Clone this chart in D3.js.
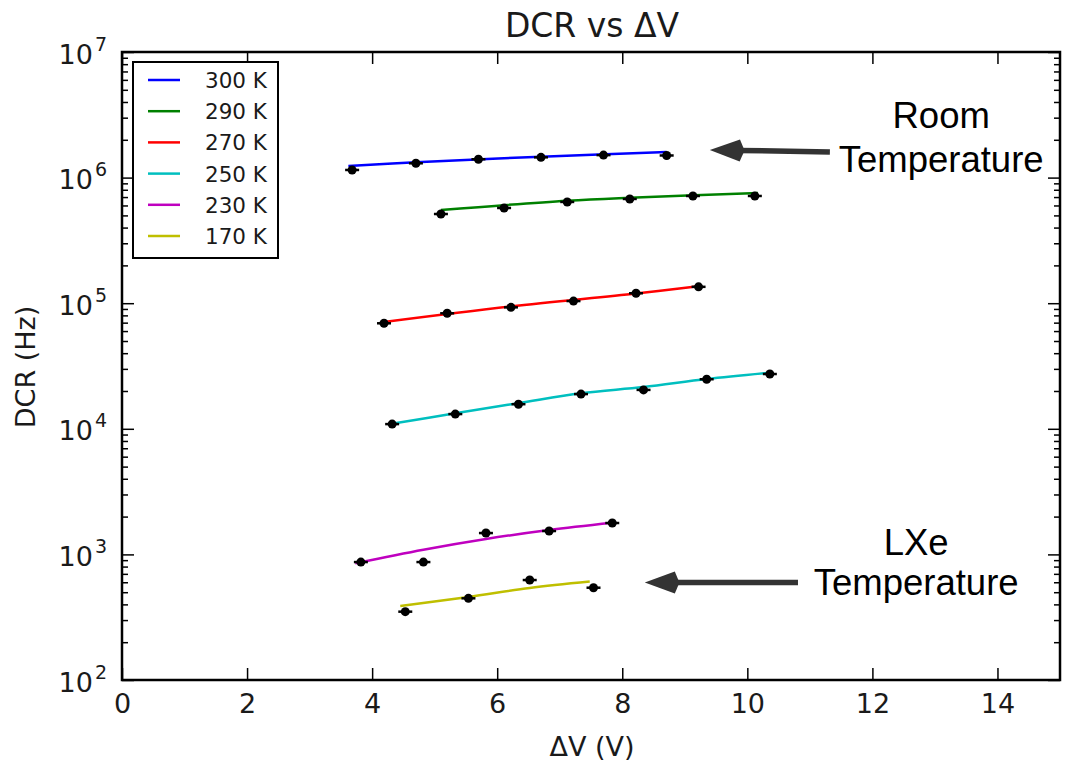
<!DOCTYPE html>
<html>
<head>
<meta charset="utf-8">
<script src="https://cdn.jsdelivr.net/npm/d3@7/dist/d3.min.js"></script>
<style>
  html, body { margin: 0; padding: 0; background: #fff; }
  svg { display: block; }
</style>
</head>
<body>
<svg id="chart" width="1066" height="772"></svg>
<script>
// Series labels and colours (matplotlib classic b, g, r, c, m, y)
const seriesNames = ["300 K", "290 K", "270 K", "250 K", "230 K", "170 K"];
const seriesColors = ["#0000ff", "#008000", "#ff0000", "#00bfbf", "#bf00bf", "#bfbf00"];

// Measured points: overvoltage ΔV (V) and dark count rate (Hz)
const dv300 = [3.68, 4.70, 5.70, 6.70, 7.70, 8.71];
const dcr300 = [1.15e6, 1.30e6, 1.40e6, 1.45e6, 1.51e6, 1.50e6];
const dv290 = [5.10, 6.11, 7.12, 8.12, 9.13, 10.12];
const dcr290 = [5.13e5, 5.73e5, 6.40e5, 6.76e5, 7.14e5, 7.14e5];
const dv270 = [4.19, 5.20, 6.22, 7.22, 8.22, 9.22];
const dcr270 = [6.92e4, 8.31e4, 9.27e4, 1.04e5, 1.20e5, 1.35e5];
const dv250 = [4.32, 5.33, 6.34, 7.34, 8.34, 9.35, 10.36];
const dcr250 = [1.09e4, 1.31e4, 1.57e4, 1.89e4, 2.04e4, 2.48e4, 2.73e4];
const dv230 = [3.82, 4.82, 5.82, 6.83, 7.84];
const dcr230 = [869, 869, 1479, 1535, 1778];
const dv170 = [4.53, 5.54, 6.52, 7.54];
const dcr170 = [350, 447, 625, 543];

// Fitted curves through each data set
const fitDv300 = [3.62, 4.70, 6.70, 8.71];
const fitDcr300 = [1.236e6, 1.325e6, 1.466e6, 1.600e6];
const fitDv290 = [5.10, 7.12, 8.12, 10.17];
const fitDcr290 = [5.52e5, 6.55e5, 6.92e5, 7.54e5];
const fitDv270 = [4.19, 6.22, 8.22, 9.25];
const fitDcr270 = [7.08e4, 9.42e4, 1.194e5, 1.371e5];
const fitDv250 = [4.29, 5.33, 6.34, 7.34, 8.34, 9.35, 10.40];
const fitDcr250 = [1.09e4, 1.33e4, 1.60e4, 1.92e4, 2.15e4, 2.49e4, 2.81e4];
const fitDv230 = [3.73, 4.82, 5.82, 6.83, 7.84];
const fitDcr230 = [849, 1090, 1327, 1563, 1786];
const fitDv170 = [4.45, 5.54, 6.52, 7.48];
const fitDcr170 = [388, 458, 540, 608];

// Axis ticks
const xTicks = [0, 2, 4, 6, 8, 10, 12, 14];
const yExponents = [2, 3, 4, 5, 6, 7];

const pointsDv = [dv300, dv290, dv270, dv250, dv230, dv170];
const pointsDcr = [dcr300, dcr290, dcr270, dcr250, dcr230, dcr170];
const fitsDv = [fitDv300, fitDv290, fitDv270, fitDv250, fitDv230, fitDv170];
const fitsDcr = [fitDcr300, fitDcr290, fitDcr270, fitDcr250, fitDcr230, fitDcr170];

const series = seriesNames.map((name, i) => ({
  name,
  color: seriesColors[i],
  points: pointsDv[i].map((v, j) => ({ x: v, y: pointsDcr[i][j] })),
  fit: fitsDv[i].map((v, j) => ({ x: v, y: fitsDcr[i][j] }))
}));

const svg = d3.select("#chart");
const margin = { left: 122, right: 6, top: 52, bottom: 92 };
const W = 1066, H = 772;
const x = d3.scaleLinear().domain([0, 15]).range([margin.left, W - margin.right]);
const y = d3.scaleLog().domain([1e2, 1e7]).range([H - margin.bottom, margin.top]);

const textColor = "#1a1a1a";
const tickFont = "DejaVu Sans, sans-serif";

// Minor log ticks (2..9 in each decade)
const minorTicks = [];
yExponents.slice(0, -1).forEach(e => {
  for (let k = 2; k <= 9; k++) minorTicks.push(k * Math.pow(10, e));
});

function styleTicks(g) {
  g.select(".domain").remove();
  g.selectAll(".tick line").attr("stroke", "#000").attr("stroke-width", 1.5);
}

// Bottom axis with labels
svg.append("g")
  .attr("transform", `translate(0,${y.range()[0]})`)
  .call(d3.axisBottom(x).tickValues(xTicks).tickSize(-12).tickPadding(14).tickFormat(d3.format("d")))
  .call(styleTicks)
  .call(g => g.selectAll("text")
    .attr("font-family", tickFont).attr("font-size", 27).attr("fill", textColor));

// Top axis (ticks only)
svg.append("g")
  .attr("transform", `translate(0,${y.range()[1]})`)
  .call(d3.axisTop(x).tickValues(xTicks).tickSize(-12).tickFormat(""))
  .call(styleTicks);

// Left axis with 10^n labels
svg.append("g")
  .attr("transform", `translate(${x.range()[0]},0)`)
  .call(d3.axisLeft(y).tickValues(yExponents.map(e => Math.pow(10, e))).tickSize(-12).tickPadding(15).tickFormat(""))
  .call(styleTicks)
  .call(g => g.selectAll(".tick text")
    .attr("font-family", tickFont).attr("font-size", 27).attr("fill", textColor)
    .attr("dy", null)
    .each(function (d) {
      const t = d3.select(this);
      t.append("tspan").attr("dy", 11).text("10");
      t.append("tspan").attr("dy", -13).attr("dx", 2).attr("font-size", 19)
        .text(Math.round(Math.log10(d)));
    }));

svg.append("g")
  .attr("transform", `translate(${x.range()[0]},0)`)
  .call(d3.axisLeft(y).tickValues(minorTicks).tickSize(-6).tickFormat(""))
  .call(styleTicks);

// Right axis (ticks only)
svg.append("g")
  .attr("transform", `translate(${x.range()[1]},0)`)
  .call(d3.axisRight(y).tickValues(yExponents.map(e => Math.pow(10, e))).tickSize(-12).tickFormat(""))
  .call(styleTicks);
svg.append("g")
  .attr("transform", `translate(${x.range()[1]},0)`)
  .call(d3.axisRight(y).tickValues(minorTicks).tickSize(-6).tickFormat(""))
  .call(styleTicks);

// Fit lines
const line = d3.line().x(d => x(d.x)).y(d => y(d.y)).curve(d3.curveCatmullRom);
svg.append("g").selectAll("path")
  .data(series).join("path")
  .attr("d", d => line(d.fit))
  .attr("fill", "none")
  .attr("stroke", d => d.color)
  .attr("stroke-width", 2.5);

// Data points: black markers with short horizontal bars
const pts = svg.append("g").selectAll("g")
  .data(series.flatMap(s => s.points)).join("g")
  .attr("transform", d => `translate(${x(d.x)},${y(d.y)})`);
pts.append("line").attr("x1", -7).attr("x2", 7).attr("stroke", "#000").attr("stroke-width", 2.5);
pts.append("circle").attr("r", 4.5).attr("fill", "#000");

// Frame
svg.append("rect")
  .attr("x", x.range()[0]).attr("y", y.range()[1])
  .attr("width", x.range()[1] - x.range()[0])
  .attr("height", y.range()[0] - y.range()[1])
  .attr("fill", "none").attr("stroke", "#000").attr("stroke-width", 2.5);

// Legend
const legend = svg.append("g").attr("transform", "translate(133,62)");
legend.append("rect").attr("width", 145).attr("height", 196)
  .attr("fill", "#fff").attr("stroke", "#000").attr("stroke-width", 2);
const entry = legend.selectAll("g.entry").data(series).join("g")
  .attr("class", "entry")
  .attr("transform", (d, i) => `translate(0,${18 + i * 31.2})`);
entry.append("line").attr("x1", 15).attr("x2", 47)
  .attr("stroke", d => d.color).attr("stroke-width", 2.5);
entry.append("text").attr("x", 72).attr("y", 8)
  .attr("font-family", tickFont).attr("font-size", 21.5).attr("fill", textColor)
  .text(d => d.name);

// Titles
svg.append("text")
  .attr("x", 592).attr("y", 37).attr("text-anchor", "middle")
  .attr("font-family", tickFont).attr("font-size", 33).attr("fill", textColor)
  .text("DCR vs ΔV");
svg.append("text")
  .attr("x", 592).attr("y", 756).attr("text-anchor", "middle")
  .attr("font-family", tickFont).attr("font-size", 27).attr("fill", textColor)
  .text("ΔV (V)");
svg.append("text")
  .attr("transform", "translate(35,367) rotate(-90)").attr("text-anchor", "middle")
  .attr("font-family", tickFont).attr("font-size", 27).attr("fill", textColor)
  .text("DCR (Hz)");

// Annotations with arrows, placed in data coordinates
const notes = [
  { lines: ["Room", "Temperature"], tx: 13.10, ty: [2.48e6, 1.11e6], tip: [9.40, 1.66e6], tail: [11.32, 1.60e6] },
  { lines: ["LXe", "Temperature"], tx: 12.70, ty: [989, 475], tip: [8.36, 597], tail: [10.81, 597] }
];
notes.forEach(n => {
  const [x0, y0] = [x(n.tip[0]), y(n.tip[1])];
  const [x1, y1] = [x(n.tail[0]), y(n.tail[1])];
  const ang = Math.atan2(y1 - y0, x1 - x0);
  const headLen = 30, headHalf = 11;
  const bx = x0 + headLen * Math.cos(ang), by = y0 + headLen * Math.sin(ang);
  svg.append("line")
    .attr("x1", bx - 2 * Math.cos(ang)).attr("y1", by - 2 * Math.sin(ang))
    .attr("x2", x1).attr("y2", y1)
    .attr("stroke", "#333").attr("stroke-width", 5.5);
  const px = -Math.sin(ang) * headHalf, py = Math.cos(ang) * headHalf;
  svg.append("path")
    .attr("d", `M${x0},${y0}L${bx + px},${by + py}L${bx + px * 0.15 + 4 * Math.cos(ang)},${by + py * 0.15 + 4 * Math.sin(ang)}L${bx - px * 0.15 + 4 * Math.cos(ang)},${by - py * 0.15 + 4 * Math.sin(ang)}L${bx - px},${by - py}Z`)
    .attr("fill", "#333");
  n.lines.forEach((t, i) => {
    svg.append("text")
      .attr("x", x(n.tx)).attr("y", y(n.ty[i])).attr("text-anchor", "middle")
      .attr("font-family", "Liberation Sans, Arial, sans-serif").attr("font-size", 36.5).attr("fill", "#000")
      .text(t);
  });
});
</script>
</body>
</html>
